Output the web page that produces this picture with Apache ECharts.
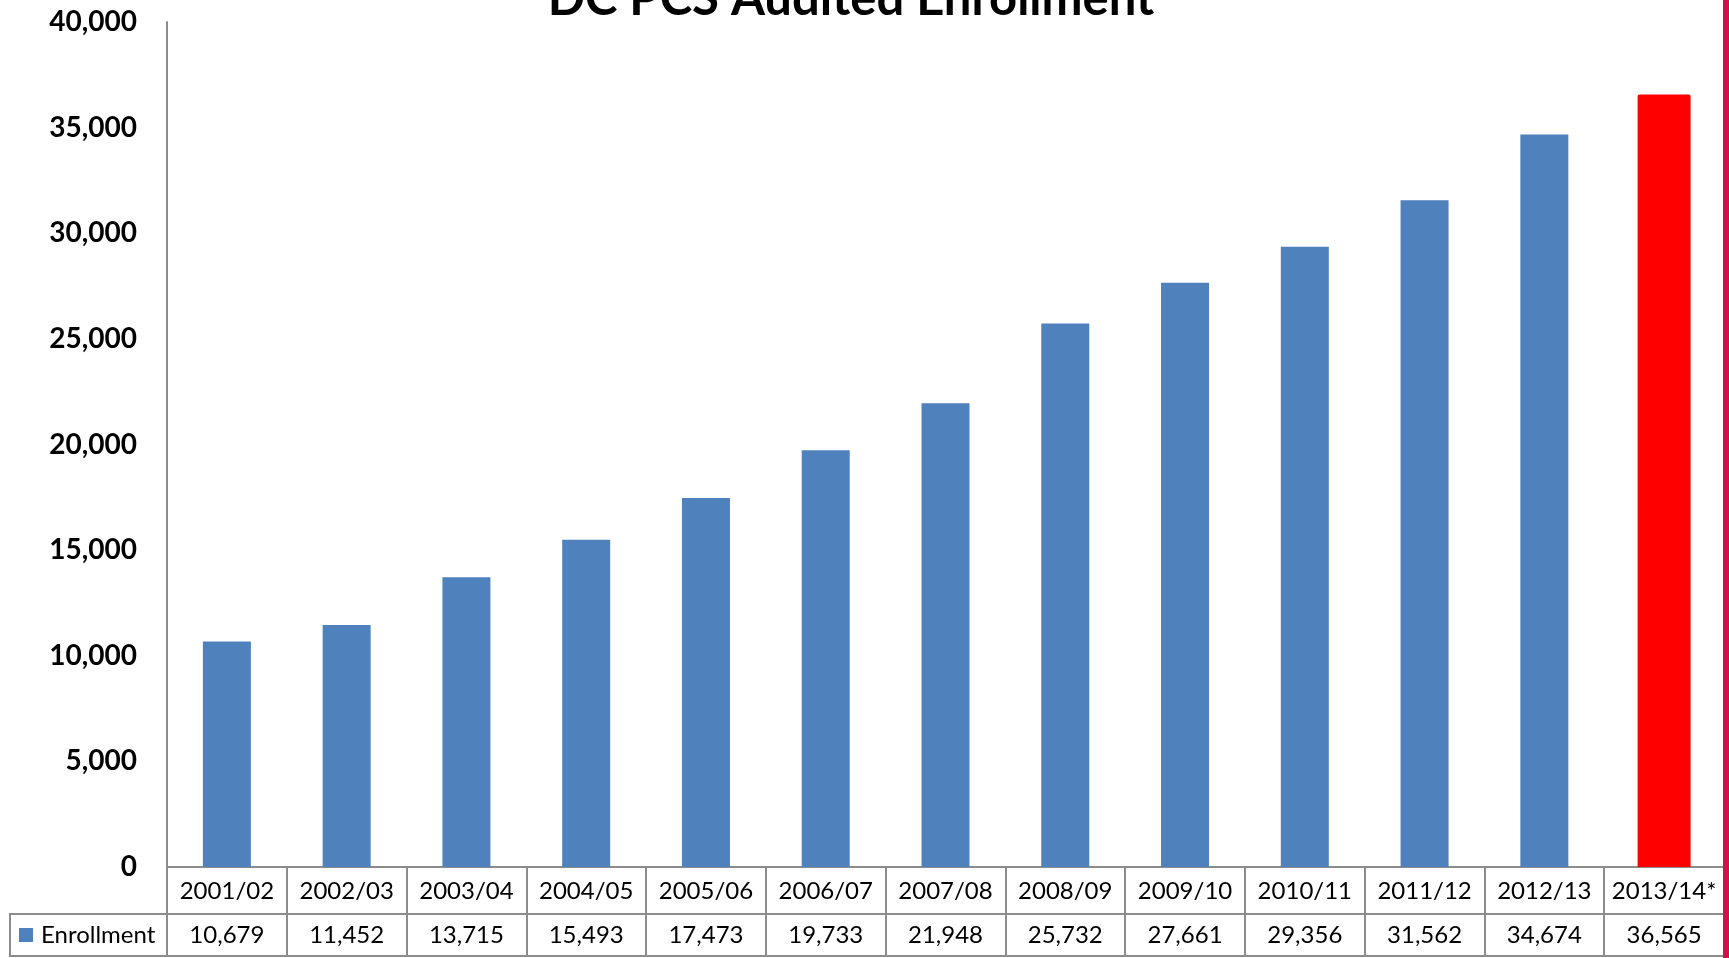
<!DOCTYPE html>
<html>
<head>
<meta charset="utf-8">
<script src="https://cdn.jsdelivr.net/npm/echarts@6/dist/echarts.min.js"></script>
<style>
html,body{margin:0;padding:0;background:#fff;}
#chart{width:1729px;height:958px;}
</style>
</head>
<body>
<div id="chart"></div>
<script>
const title = 'DC PCS Audited Enrollment';
const seriesName = 'Enrollment';
const categories = ['2001/02','2002/03','2003/04','2004/05','2005/06','2006/07','2007/08','2008/09','2009/10','2010/11','2011/12','2012/13','2013/14*'];
const enrollment = [10679, 11452, 13715, 15493, 17473, 19733, 21948, 25732, 27661, 29356, 31562, 34674, 36565];
const yMin = 0, yMax = 40000, yStep = 5000;
const highlightIndex = 12;

const FONT = 'Lato, "Liberation Sans", sans-serif';
const BLUE = '#4F81BD';
const RED = '#FF0000';
const LINE = '#8c8c8c';
const fmt = v => Number(v).toLocaleString('en-US');

const chart = echarts.init(document.getElementById('chart'), null, {renderer: 'canvas'});

const blueData = enrollment.map((v, i) => i === highlightIndex ? '-' : v);
const redData = enrollment.map((v, i) => i === highlightIndex ? v : '-');

const option = {
  animation: false,
  backgroundColor: '#fff',
  textStyle: {fontFamily: FONT},
  title: {
    text: title,
    left: 851,
    textAlign: 'center',
    top: -25,
    padding: 0,
    textStyle: {fontFamily: FONT, fontSize: 49, fontWeight: 'bold', color: '#000'}
  },
  legend: {
    data: [seriesName],
    left: 19,
    top: 923,
    padding: 0,
    icon: 'rect',
    itemWidth: 14,
    itemHeight: 14,
    textStyle: {fontFamily: FONT, fontSize: 24, color: '#000', padding: [0, 0, 0, 3]}
  },
  grid: [
    {left: 167, right: 5, top: 22, bottom: 91, containLabel: false},
    {left: 167, right: 5, top: 867, bottom: 44, show: true, borderColor: LINE, borderWidth: 2, backgroundColor: 'transparent'},
    {left: 167, right: 5, top: 914, bottom: 2, show: true, borderColor: LINE, borderWidth: 2, backgroundColor: 'transparent'},
    {left: 10, width: 157, top: 914, bottom: 2, show: true, borderColor: LINE, borderWidth: 2, backgroundColor: 'transparent'}
  ],
  xAxis: [
    {
      gridIndex: 0, type: 'category', data: categories,
      axisLine: {show: false}, axisTick: {show: false},
      axisLabel: {interval: 0, margin: 12, fontFamily: FONT, fontSize: 24, color: '#000'}
    },
    {
      gridIndex: 1, type: 'category', data: categories,
      axisLine: {show: false}, axisTick: {show: false, interval: 0},
      axisLabel: {show: false, interval: 0},
      splitLine: {show: true, interval: 0, lineStyle: {color: LINE, width: 2}}
    },
    {
      gridIndex: 2, type: 'category', position: 'top', data: enrollment.map(fmt),
      axisLine: {show: false}, axisTick: {show: false, interval: 0},
      axisLabel: {inside: true, interval: 0, margin: 9, fontFamily: FONT, fontSize: 24, color: '#000'},
      splitLine: {show: true, interval: 0, lineStyle: {color: LINE, width: 2}}
    },
    {gridIndex: 3, type: 'category', data: [''], show: false},
    {gridIndex: 0, type: 'category', data: categories, show: false}
  ],
  yAxis: [
    {
      gridIndex: 0, type: 'value', min: yMin, max: yMax, interval: yStep,
      axisLine: {show: true, lineStyle: {color: LINE, width: 2}},
      axisTick: {show: false},
      splitLine: {show: false},
      axisLabel: {margin: 30, fontFamily: FONT, fontSize: 28, fontWeight: 'bold', color: '#000', formatter: fmt}
    },
    {gridIndex: 1, type: 'value', show: false},
    {gridIndex: 2, type: 'value', show: false},
    {gridIndex: 3, type: 'value', show: false}
  ],
  series: [
    {
      name: seriesName, type: 'bar', xAxisIndex: 0, yAxisIndex: 0,
      data: blueData, barWidth: 48,
      itemStyle: {color: BLUE}
    },
    {
      name: seriesName + ' (estimate)', type: 'bar', xAxisIndex: 4, yAxisIndex: 0,
      data: redData, barWidth: 53,
      itemStyle: {color: RED, borderRadius: [2, 2, 0, 0]}
    }
  ],
  graphic: [
    {type: 'rect', right: 0, top: 0, shape: {width: 6, height: 958}, style: {fill: '#D0124A'}, z: 100}
  ]
};
chart.setOption(option);
</script>
</body>
</html>
